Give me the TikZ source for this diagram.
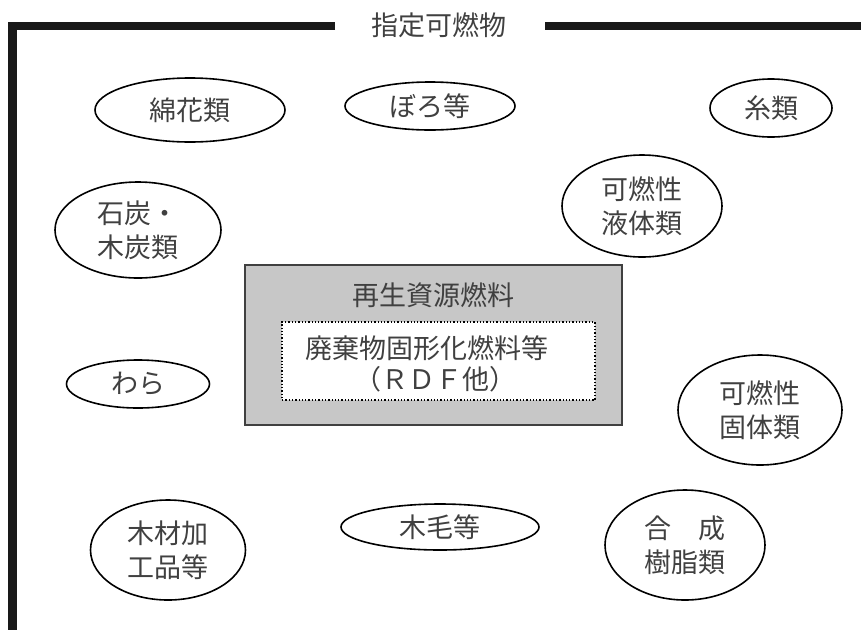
\documentclass[tikz,border=0pt]{standalone}
\usepackage{fontspec}
\setmainfont{Noto Sans CJK JP}
\usetikzlibrary{shapes.geometric}
\definecolor{boxgray}{gray}{0.78}
\definecolor{txt}{gray}{0.25}
\tikzset{
  lbl/.style={text=txt, font=\fontsize{27}{34}\selectfont, align=center, inner sep=0pt},
  el/.style={ellipse, draw=black, line width=1.6pt, lbl},
  frame/.style={line width=8.5pt, draw=black!90, line join=miter},
}
\begin{document}
\begin{tikzpicture}[x=1pt,y=-1pt]
\useasboundingbox (0,0) rectangle (861,630);
% frame
\node[lbl] (title) at (439,25) {指定可燃物};
\coordinate (tl1) at (335,26);
\coordinate (corner) at (12.5,26);
\coordinate (bot) at (12.5,630);
\coordinate (tr1) at (545,26);
\coordinate (tr2) at (861,26);
\draw[frame] (tl1) -- (corner) -- (bot);
\draw[frame] (tr1) -- (tr2);
% central box
\node[draw=black!75, fill=boxgray, line width=1.5pt, minimum width=377pt, minimum height=160pt, inner sep=0pt] (box) at (433.5,345) {};
\node[lbl] (boxtitle) at (433,295) {再生資源燃料};
\node[draw=black, fill=white, dotted, line width=1.3pt, minimum width=313pt, minimum height=78pt, inner sep=0pt] (inner) at (438.5,361) {};
\node[lbl] (rdf1) at (427,348) {廃棄物固形化燃料等};
\node[lbl] (rdf2) at (435,379) {（ＲＤＦ他）};
% ellipses
\node[el, minimum width=190pt, minimum height=64pt] (menka) at (190,110) {綿花類};
\node[el, minimum width=170pt, minimum height=48pt] (boro) at (430,106) {ぼろ等};
\node[el, minimum width=122pt, minimum height=58pt] (ito) at (771,108) {糸類};
\node[el, minimum width=160pt, minimum height=102pt] (ekitai) at (642,206) {可燃性\\液体類};
\node[el, minimum width=166pt, minimum height=96pt] (sekitan) at (138,230) {石炭・\\木炭類};
\node[el, minimum width=143pt, minimum height=48pt] (wara) at (138,384) {わら};
\node[el, minimum width=164pt, minimum height=110pt] (kotai) at (760,410) {可燃性\\固体類};
\node[el, minimum width=155pt, minimum height=100pt] (mokuzai) at (168,550) {木材加\\工品等};
\node[el, minimum width=198pt, minimum height=46pt] (mokumo) at (440,527) {木毛等};
\node[el, minimum width=160pt, minimum height=110pt] (gousei) at (685,545) {合　成\\樹脂類};
\end{tikzpicture}
\end{document}
